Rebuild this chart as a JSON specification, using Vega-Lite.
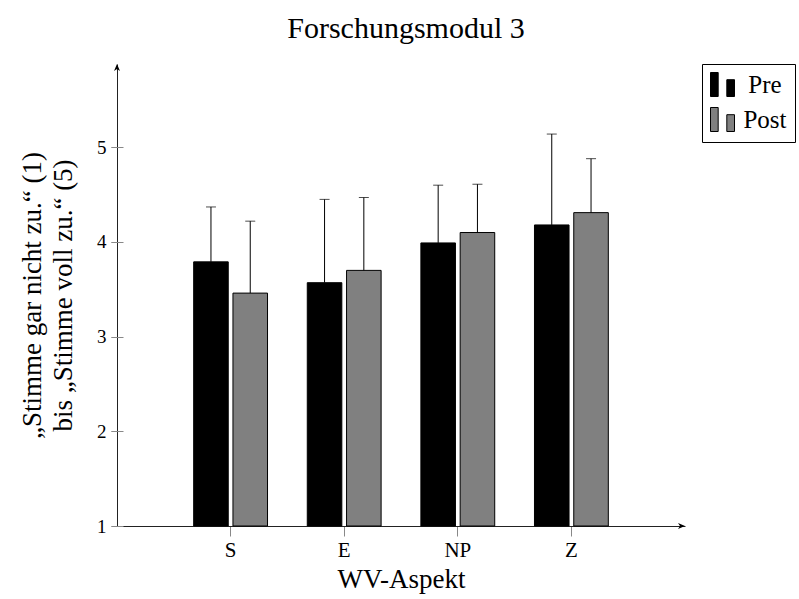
{
  "$schema": "https://vega.github.io/schema/vega-lite/v6.json",
  "width": 568,
  "height": 462,
  "autosize": {"type": "none"},
  "padding": {"left": 117, "top": 64, "right": 114, "bottom": 73},
  "background": "white",
  "config": {
    "font": "Liberation Serif",
    "view": {"stroke": null}
  },
  "title": {
    "text": "Forschungsmodul 3",
    "fontSize": 30,
    "fontWeight": "normal",
    "font": "Liberation Serif",
    "color": "black",
    "offset": 20,
    "dx": 5
  },
  "data": {
    "values": [
      {"aspekt": "S", "zeit": "Pre", "mean": 3.79, "upper": 4.37},
      {"aspekt": "S", "zeit": "Post", "mean": 3.46, "upper": 4.22},
      {"aspekt": "E", "zeit": "Pre", "mean": 3.57, "upper": 4.45},
      {"aspekt": "E", "zeit": "Post", "mean": 3.70, "upper": 4.47},
      {"aspekt": "NP", "zeit": "Pre", "mean": 3.99, "upper": 4.60},
      {"aspekt": "NP", "zeit": "Post", "mean": 4.10, "upper": 4.61},
      {"aspekt": "Z", "zeit": "Pre", "mean": 4.18, "upper": 5.14},
      {"aspekt": "Z", "zeit": "Post", "mean": 4.31, "upper": 4.88}
    ]
  },
  "layer": [
    {
      "encoding": {
        "x": {
          "field": "aspekt",
          "type": "nominal",
          "sort": ["S", "E", "NP", "Z"],
          "scale": {"paddingInner": 0.35, "paddingOuter": 0.675},
          "axis": {
            "title": "WV-Aspekt",
            "titleFontSize": 27,
            "titleFontWeight": "normal",
            "titleColor": "black",
            "titlePadding": 6,
            "labelAngle": 0,
            "labelFontSize": 21,
            "labelColor": "black",
            "labelPadding": 3,
            "tickSize": 10,
            "tickColor": "#888888",
            "domainColor": "#222222",
            "grid": false
          }
        },
        "xOffset": {
          "field": "zeit",
          "type": "nominal",
          "sort": ["Pre", "Post"],
          "scale": {"paddingInner": 0.12, "paddingOuter": 0}
        }
      },
      "layer": [
        {
          "mark": {"type": "bar", "stroke": "black", "strokeWidth": 1},
          "encoding": {
            "y": {
              "field": "mean",
              "type": "quantitative",
              "scale": {"domain": [1, 5.88], "nice": false, "zero": false},
              "axis": {
                "orient": "left",
                "values": [1, 2, 3, 4, 5],
                "title": ["„Stimme gar nicht zu.“ (1)", "bis „Stimme voll zu.“ (5)"],
                "titleFontSize": 27,
                "titleFontWeight": "normal",
                "titleColor": "black",
                "titleLineHeight": 31,
                "titlePadding": 19,
                "labelFontSize": 19,
                "labelColor": "black",
                "labelPadding": 5,
                "tickSize": 6,
                "tickColor": "#888888",
                "domainColor": "#222222",
                "grid": false
              }
            },
            "y2": {"datum": 1},
            "color": {
              "field": "zeit",
              "type": "nominal",
              "sort": ["Pre", "Post"],
              "scale": {"domain": ["Pre", "Post"], "range": ["#000000", "#808080"]},
              "legend": {
                "title": null,
                "orient": "none",
                "legendX": 585,
                "legendY": 0,
                "symbolType": "M-1,-1H-0.36V1H-1Z M0.36,-0.4H1V1H0.36Z",
                "symbolSize": 576,
                "symbolStrokeColor": "black",
                "symbolStrokeWidth": 1,
                "labelFontSize": 25,
                "labelColor": "black",
                "labelAlign": "center",
                "labelOffset": 30,
                "strokeColor": "black",
                "fillColor": "white",
                "padding": 8,
                "rowPadding": 6,
                "cornerRadius": 0
              }
            }
          }
        },
        {
          "mark": {"type": "rule", "color": "black", "strokeWidth": 1},
          "encoding": {
            "y": {
              "field": "mean",
              "type": "quantitative",
              "axis": {
                "orient": "left",
                "values": [1, 2, 3, 4, 5],
                "labels": false,
                "domain": false,
                "title": null,
                "tickSize": 12,
                "offset": -6,
                "tickColor": "#888888",
                "grid": false
              }
            },
            "y2": {"field": "upper"}
          }
        },
        {
          "mark": {"type": "tick", "orient": "horizontal", "size": 10, "thickness": 1, "color": "black"},
          "encoding": {
            "y": {"field": "upper", "type": "quantitative", "axis": null}
          }
        }
      ],
      "resolve": {"axis": {"y": "independent"}}
    },
    {
      "data": {"values": [{}]},
      "layer": [
        {
          "mark": {"type": "point", "filled": true, "opacity": 1, "size": 16, "color": "black", "shape": "M0,0L1.5,3.5L0,2.5L-1.5,3.5Z"},
          "encoding": {
            "x": {"datum": 0, "type": "quantitative", "scale": {"domain": [0, 5], "nice": false}, "axis": null},
            "y": {"datum": 5.88, "type": "quantitative", "axis": null}
          }
        },
        {
          "mark": {"type": "point", "filled": true, "opacity": 1, "size": 16, "color": "black", "shape": "M0,0L-3.5,-1.5L-2.5,0L-3.5,1.5Z"},
          "encoding": {
            "x": {"datum": 5, "type": "quantitative", "scale": {"domain": [0, 5], "nice": false}, "axis": null},
            "y": {"datum": 1, "type": "quantitative", "axis": null}
          }
        }
      ]
    }
  ],
  "resolve": {"scale": {"x": "independent"}, "axis": {"y": "independent"}}
}
